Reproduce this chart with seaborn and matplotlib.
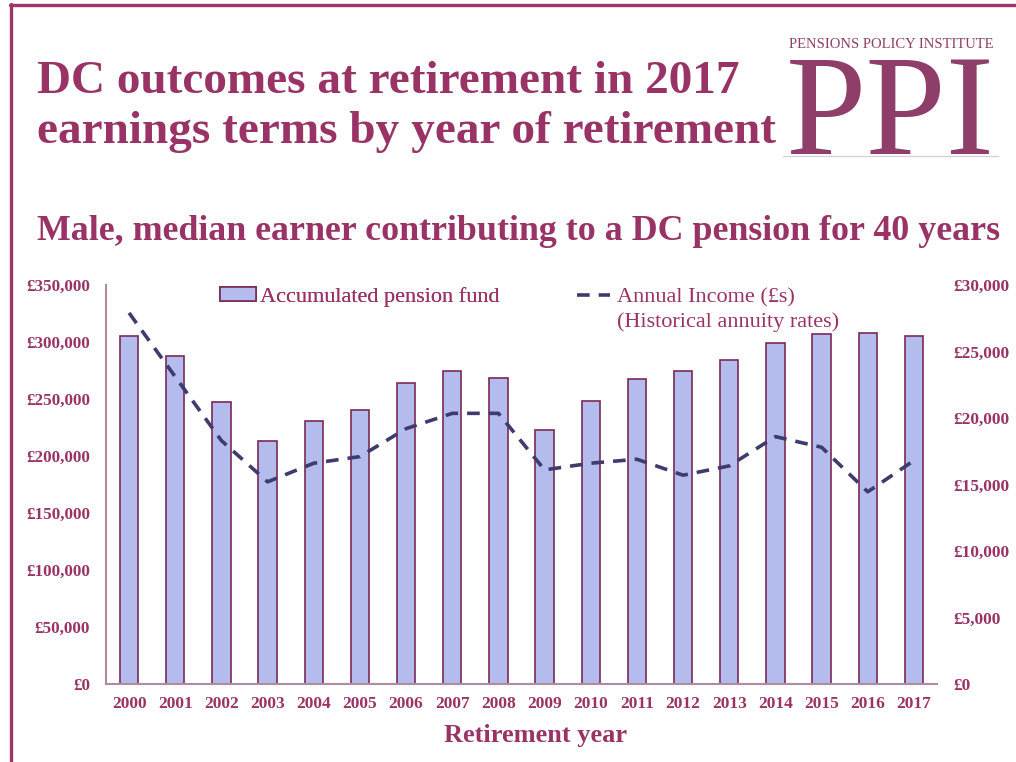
import numpy as np
import pandas as pd
import matplotlib
matplotlib.use("Agg")
import matplotlib.pyplot as plt
from matplotlib.lines import Line2D
from matplotlib.patches import Patch
import seaborn as sns

years = ["2000", "2001", "2002", "2003", "2004", "2005", "2006", "2007", "2008",
         "2009", "2010", "2011", "2012", "2013", "2014", "2015", "2016", "2017"]
fund = [305000, 287500, 247000, 213000, 230500, 240000, 264000, 274500, 268000,
        222500, 248000, 267500, 274500, 284000, 299000, 307000, 307500, 305000]
income = [27900, 23100, 18300, 15200, 16600, 17100, 19200, 20350, 20350,
          16100, 16600, 16900, 15700, 16400, 18600, 17800, 14450, 16800]
left_ticks = [0, 50000, 100000, 150000, 200000, 250000, 300000, 350000]
right_ticks = [0, 5000, 10000, 15000, 20000, 25000, 30000]

TXT = "#993366"
BAR = "#b4bbed"
EDGE = "#7b2a55"
LINE = "#3f3b6f"
SPINE = "#b08aa0"

sns.set_theme(style="white")
plt.rcParams["font.family"] = ["Liberation Serif", "DejaVu Serif"]

df = pd.DataFrame({"year": years, "fund": fund, "income": income,
                   "pos": np.arange(len(years))})

fig = plt.figure(figsize=(10.16, 7.62), dpi=100)
ax = fig.add_axes([106 / 1016, 1 - 684 / 762, (937 - 106) / 1016, (684 - 285) / 762])

sns.barplot(data=df, x="year", y="fund", color=BAR, edgecolor=EDGE, linewidth=1.2,
            width=0.4, saturation=1, ax=ax)
ax.set_ylim(0, 350000)
ax.set_xlim(-0.5, len(years) - 0.5)
ax.set_yticks(left_ticks)
ax.set_yticklabels(["£{:,}".format(v) for v in left_ticks])
ax.set_xlabel("Retirement year", fontsize=19, fontweight="bold", color=TXT)
ax.xaxis.set_label_coords(0.517, -40 / 399)
ax.set_ylabel("")
ax.tick_params(axis="y", length=0, pad=11.5, labelsize=12.3, labelcolor=TXT)
ax.tick_params(axis="x", length=0, pad=9, labelsize=12.5, labelcolor=TXT)
for lab in ax.get_yticklabels() + ax.get_xticklabels():
    lab.set_fontweight("bold")
for s in ["top", "right"]:
    ax.spines[s].set_visible(False)
for s in ["left", "bottom"]:
    ax.spines[s].set_color(SPINE)
    ax.spines[s].set_linewidth(1.5)

ax2 = ax.twinx()
sns.lineplot(data=df, x="pos", y="income", color=LINE, linewidth=2.6, ax=ax2)
ax2.lines[0].set_dashes([3.5, 2.5])
ax2.set_ylim(0, 30000)
ax2.set_xlim(-0.5, len(years) - 0.5)
ax2.set_yticks(right_ticks)
ax2.set_yticklabels(["£{:,}".format(v) for v in right_ticks])
ax2.set_ylabel("")
ax2.tick_params(axis="y", length=0, pad=12, labelsize=12.5, labelcolor=TXT)
for lab in ax2.get_yticklabels():
    lab.set_fontweight("bold")
for s in ["top", "right", "left", "bottom"]:
    ax2.spines[s].set_visible(False)

# Legends
h1 = Patch(facecolor=BAR, edgecolor=EDGE, linewidth=1.2)
leg1 = ax.legend([h1], ["Accumulated pension fund"], loc="center left",
                 bbox_to_anchor=(220 / 1016, 1 - 297 / 762), bbox_transform=fig.transFigure,
                 frameon=False, fontsize=16, handlelength=1.6, handleheight=0.55,
                 handletextpad=0.2, borderpad=0, borderaxespad=0)
for t in leg1.get_texts():
    t.set_color(TXT)
ax.add_artist(leg1)
h2 = Line2D([0], [0], color=LINE, linewidth=2.6, dashes=[3.5, 2.5])
leg2 = ax2.legend([h2], ["Annual Income (£s)"], loc="center left",
                  bbox_to_anchor=(577 / 1016, 1 - 297 / 762), bbox_transform=fig.transFigure,
                  frameon=False, fontsize=16, handlelength=1.5,
                  handletextpad=0.3, borderpad=0, borderaxespad=0)
for t in leg2.get_texts():
    t.set_color(TXT)
fig.text(617 / 1016, 1 - 322 / 762, "(Historical annuity rates)", fontsize=16,
         color=TXT, va="center", ha="left")

# Titles
fig.text(37 / 1016, 1 - 82 / 762, "DC outcomes at retirement in 2017", fontsize=34,
         fontweight="bold", color=TXT, va="center", ha="left")
fig.text(37 / 1016, 1 - 132 / 762, "earnings terms by year of retirement", fontsize=34,
         fontweight="bold", color=TXT, va="center", ha="left")
fig.text(37 / 1016, 1 - 232 / 762, "Male, median earner contributing to a DC pension for 40 years",
         fontsize=25.8, fontweight="bold", color=TXT, va="center", ha="left")

# Logo
LOGO = "#8e3e68"
fig.text(891 / 1016, 1 - 44 / 762, "PENSIONS POLICY INSTITUTE", fontsize=10.5,
         color=LOGO, va="center", ha="center")
fig.text(890 / 1016, 1 - 154 / 762, "PPI", fontsize=104, color=LOGO,
         va="baseline", ha="center")
fig.add_artist(Line2D([783 / 1016, 998 / 1016], [1 - 156 / 762, 1 - 156 / 762],
                      transform=fig.transFigure, color="#d8d0d6", linewidth=1))

# Frame
BORDER = "#9e3468"
fig.add_artist(Line2D([10 / 1016, 1.0], [1 - 5 / 762, 1 - 5 / 762],
                      transform=fig.transFigure, color=BORDER, linewidth=2.4))
fig.add_artist(Line2D([11 / 1016, 11 / 1016], [0, 1 - 4 / 762],
                      transform=fig.transFigure, color=BORDER, linewidth=2.4))

fig.savefig("out.png", dpi=100)
